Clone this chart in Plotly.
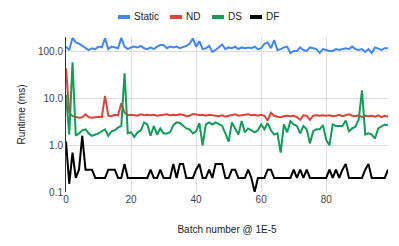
import plotly.graph_objects as go

batch = list(range(100))

static = [130, 110, 200, 160, 150, 135, 120, 110, 120, 115,
          130, 125, 195, 115, 130, 125, 120, 200, 130, 115,
          125, 130, 125, 135, 120, 115, 125, 115, 130, 140,
          140, 120, 130, 125, 130, 120, 125, 135, 150, 195,
          130, 170, 115, 120, 135, 100, 110, 125, 145, 115,
          125, 120, 130, 115, 125, 120, 125, 120, 130, 115,
          120, 150, 160, 120, 180, 110, 115, 125, 130, 95,
          105, 105, 125, 110, 105, 125, 120, 115, 95, 115,
          110, 105, 105, 115, 110, 115, 120, 115, 130, 115,
          110, 115, 100, 115, 95, 125, 115, 110, 120, 120]

nd = [45, 5.0, 4.2, 4.0, 3.9, 4.0, 4.6, 4.0, 3.9, 4.0,
      4.1, 4.0, 11.5, 4.3, 4.2, 4.5, 4.4, 8.0, 5.0, 4.4,
      4.5, 4.4, 4.3, 4.6, 4.4, 4.5, 4.4, 4.5, 4.3, 4.4,
      4.5, 4.6, 4.4, 4.5, 4.4, 4.6, 4.5, 4.2, 4.3, 4.7,
      4.6, 4.4, 4.5, 4.3, 4.5, 4.4, 4.3, 4.2, 4.4, 4.1,
      4.3, 4.4, 4.6, 4.3, 4.4, 4.5, 4.6, 4.4, 4.5, 4.3,
      4.5, 4.3, 3.4, 5.0, 4.3, 4.1, 4.0, 4.2, 4.3, 4.2,
      4.3, 4.0, 3.5, 4.4, 4.3, 3.5, 4.3, 4.4, 4.3, 4.4,
      4.3, 4.4, 4.2, 4.3, 4.5, 4.2, 4.4, 4.6, 4.3, 4.2,
      4.4, 4.0, 4.3, 4.2, 4.3, 4.1, 4.4, 4.0, 4.3, 4.1]

ds = [12, 1.7, 60, 1.6, 1.8, 2.1, 2.2, 1.8, 1.6, 1.7,
      1.8, 2.0, 2.2, 1.6, 2.0, 2.1, 2.4, 2.6, 35, 1.8,
      1.9, 1.5, 1.9, 2.1, 3.1, 2.8, 1.6, 2.6, 1.7, 2.3,
      1.8, 1.8, 1.9, 2.7, 3.1, 3.0, 2.6, 2.3, 2.2, 1.8,
      2.0, 3.0, 1.0, 2.8, 3.1, 2.8, 3.1, 2.8, 2.6, 1.8,
      1.2, 3.1, 2.2, 1.7, 3.3, 1.9, 2.3, 2.1, 1.9, 2.1,
      2.8, 2.2, 3.0, 2.1, 1.7, 1.8, 0.7, 2.8, 1.9, 3.3,
      2.8, 2.6, 1.8, 2.6, 2.2, 1.1, 2.0, 2.2, 2.2, 2.7,
      1.3, 1.0, 2.8, 2.6, 2.6, 2.6, 3.4, 2.0, 2.3, 2.5,
      3.6, 15, 1.7, 1.8, 1.7, 1.4, 2.3, 2.5, 2.8, 2.7]

df = [1.2, 0.15, 0.7, 0.2, 0.3, 1.6, 0.3, 0.3, 0.3, 0.2,
      0.2, 0.2, 0.2, 0.3, 0.3, 0.3, 0.2, 0.2, 0.4, 0.2,
      0.2, 0.2, 0.2, 0.2, 0.2, 0.2, 0.3, 0.2, 0.2, 0.3,
      0.2, 0.2, 0.2, 0.4, 0.2, 0.4, 0.4, 0.2, 0.2, 0.2,
      0.3, 0.4, 0.2, 0.2, 0.3, 0.2, 0.4, 0.4, 0.4, 0.2,
      0.2, 0.3, 0.3, 0.2, 0.2, 0.2, 0.3, 0.2, 0.1, 0.2,
      0.2, 0.2, 0.3, 0.3, 0.2, 0.2, 0.2, 0.2, 0.2, 0.2,
      0.3, 0.2, 0.3, 0.2, 0.3, 0.2, 0.2, 0.2, 0.2, 0.2,
      0.2, 0.3, 0.2, 0.3, 0.2, 0.3, 0.4, 0.2, 0.2, 0.2,
      0.2, 0.2, 0.3, 0.4, 0.2, 0.2, 0.2, 0.2, 0.2, 0.3]

series_names = ["Static", "ND", "DS", "DF"]
series_values = [static, nd, ds, df]
series_colors = ["#4285F4", "#DB4437", "#0F9D58", "#000000"]

y_tickvals = [0.1, 1, 10, 100]
y_ticktext = ["0.1", "1.0", "10.0", "100.0"]
x_tickvals = [0, 20, 40, 60, 80]

# The page body has an 8px default margin, so the figure is sized/offset to compensate
OFF = 8
W, H = 399 - OFF, 246 - OFF
L, R, T, B = 66 - OFF, 11, 37 - OFF, 54
pw, ph = W - L - R, H - T - B

fig = go.Figure()
for name, vals, col in zip(series_names, series_values, series_colors):
    fig.add_trace(go.Scatter(x=batch, y=vals, name=name, mode="lines",
                             line=dict(color=col, width=2), showlegend=False))

# Compact legend (Google-Charts style) at the top (page pixel positions)
legend_sym_px = [118, 170, 212, 250]
legend_y_px = 17
def px_to_paper_x(px):
    return (px - OFF - L) / pw
def px_to_paper_y(py):
    return (H - B - (py - OFF)) / ph

for name, col, sx in zip(series_names, series_colors, legend_sym_px):
    fig.add_shape(type="line", xref="paper", yref="paper",
                  x0=px_to_paper_x(sx), x1=px_to_paper_x(sx + 12),
                  y0=px_to_paper_y(legend_y_px), y1=px_to_paper_y(legend_y_px),
                  line=dict(color=col, width=4))
    fig.add_annotation(xref="paper", yref="paper",
                       x=px_to_paper_x(sx + 14), y=px_to_paper_y(legend_y_px),
                       xanchor="left", yanchor="middle", showarrow=False,
                       text=name, font=dict(size=10, color="#222"))

font = "Liberation Sans, Arial, sans-serif"
fig.update_layout(
    width=W, height=H,
    margin=dict(l=L, r=R, t=T, b=B, autoexpand=False),
    paper_bgcolor="white", plot_bgcolor="white",
    font=dict(family=font, size=10, color="#222"),
    showlegend=False,
    xaxis=dict(range=[0, 99], tickvals=x_tickvals, showgrid=True, gridcolor="#dddddd",
               gridwidth=1, zeroline=False, showline=False, ticks="", automargin=False,
               tickfont=dict(size=10, color="#444"),
               title=dict(text="Batch number @ 1E-5", font=dict(size=10, color="#222"), standoff=21)),
    yaxis=dict(type="log", range=[-1, 2.32], tickvals=y_tickvals, ticktext=y_ticktext,
               showgrid=True, gridcolor="#dddddd", gridwidth=1, zeroline=False,
               showline=True, linecolor="#333333", linewidth=1, ticks="", automargin=False,
               tickfont=dict(size=10, color="#444"),
               title=dict(text="Runtime (ms)", font=dict(size=10, color="#222"), standoff=10)),
)

fig.write_html("out.html")
